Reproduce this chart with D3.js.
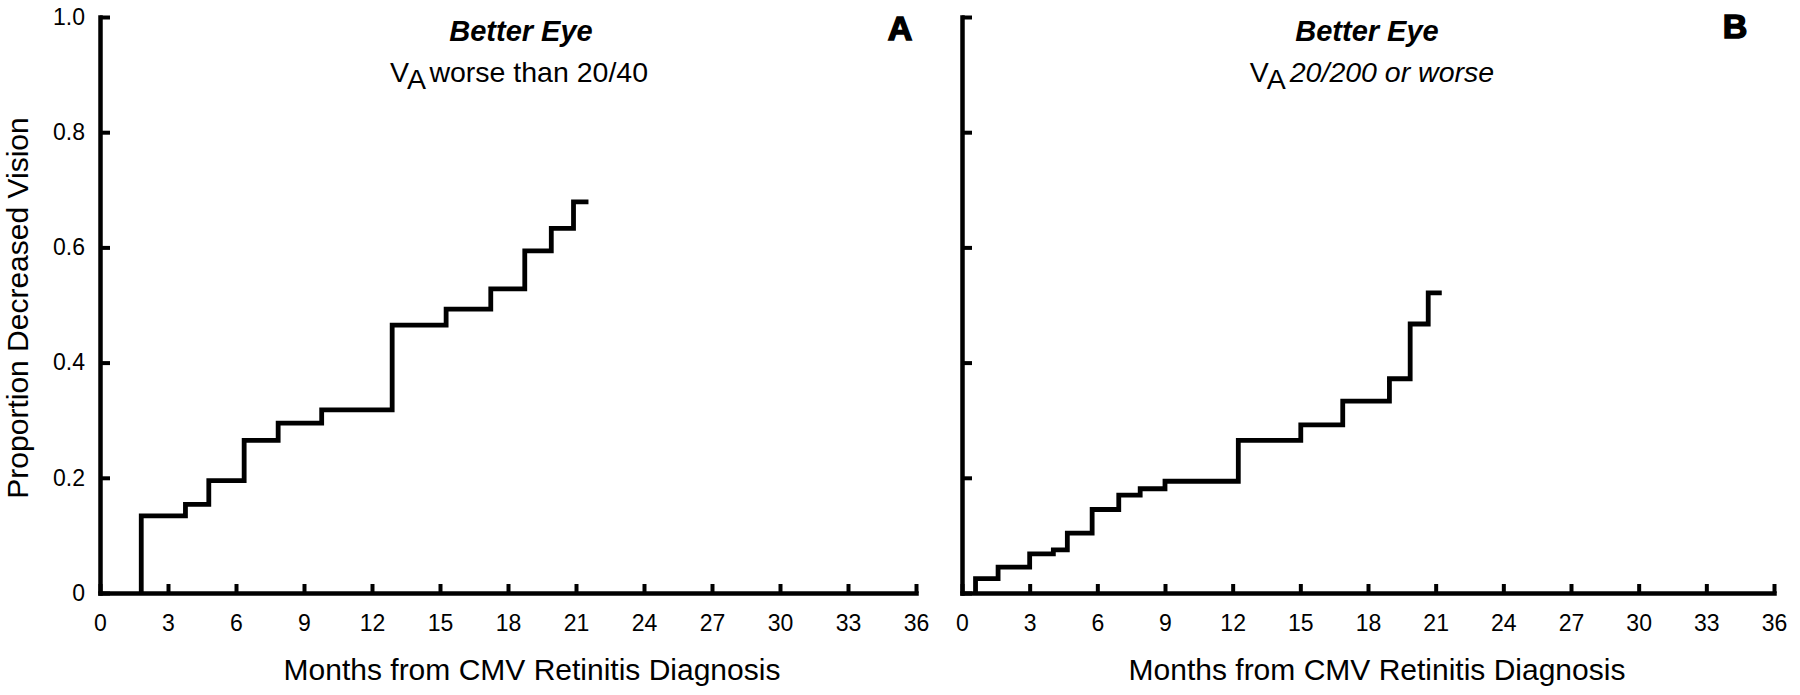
<!DOCTYPE html>
<html>
<head>
<meta charset="utf-8">
<script src="https://cdn.jsdelivr.net/npm/d3@7"></script>
<style>
  html, body { margin: 0; padding: 0; background: #fff; }
  svg { display: block; }
  text { font-family: "Liberation Sans", Arial, Helvetica, sans-serif; fill: #000; }
</style>
</head>
<body>
<svg id="chart" width="1800" height="695"></svg>
<script>
// ---- data ----
const xTicks = [0, 3, 6, 9, 12, 15, 18, 21, 24, 27, 30, 33, 36];
const yTicks = [0, 0.2, 0.4, 0.6, 0.8, 1.0];
const yTickLabels = ["0", "0.2", "0.4", "0.6", "0.8", "1.0"];

// Panel A: better eye, VA worse than 20/40 (event months and cumulative proportions)
const monthsA = [1.82, 3.77, 4.80, 6.36, 7.86, 9.78, 12.89, 15.27, 17.24, 18.74, 19.91, 20.89];
const valuesA = [0.134, 0.154, 0.195, 0.265, 0.295, 0.318, 0.465, 0.493, 0.528, 0.594, 0.633, 0.679];
const endA = 21.55;

// Panel B: better eye, VA 20/200 or worse
const monthsB = [0.60, 1.60, 3.00, 4.05, 4.67, 5.77, 6.95, 7.90, 9.00, 12.25, 15.02, 16.88, 18.95, 19.87, 20.67];
const valuesB = [0.025, 0.045, 0.068, 0.075, 0.104, 0.145, 0.170, 0.181, 0.194, 0.265, 0.292, 0.333, 0.372, 0.467, 0.521];
const endB = 21.27;

const panels = [
  { months: monthsA, values: valuesA, end: endA, x0: 100, x1: 916, letter: "A",
    letterX: 900, letterY: 40, titleX: 521, sub: "worse than 20/40", subItalic: false, subX: 519,
    xTitleX: 532, showYLabels: true },
  { months: monthsB, values: valuesB, end: endB, x0: 962, x1: 1774, letter: "B",
    letterX: 1735, letterY: 38, titleX: 1367, sub: "20/200 or worse", subItalic: true, subX: 1372,
    xTitleX: 1377, showYLabels: false }
];

const svg = d3.select("#chart");
const yTop = 17, yBot = 593;
const y = d3.scaleLinear().domain([0, 1]).range([yBot, yTop]);

panels.forEach(p => {
  const x = d3.scaleLinear().domain([0, 36]).range([p.x0, p.x1]);
  const g = svg.append("g");

  // x axis
  const xa = g.append("g").attr("transform", `translate(0,${yBot})`)
    .call(d3.axisBottom(x).tickValues(xTicks).tickSizeInner(-9).tickSizeOuter(0).tickFormat(d3.format("d")));
  xa.select(".domain").attr("stroke-width", 4.5).attr("stroke-linecap", "square");
  xa.selectAll(".tick line").attr("stroke-width", 4);
  xa.selectAll(".tick text").attr("y", 38).attr("dy", 0).style("font-size", "23px");

  // y axis
  const ya = g.append("g").attr("transform", `translate(${p.x0},0)`)
    .call(d3.axisLeft(y).tickValues(yTicks).tickSizeInner(-10).tickSizeOuter(0).tickPadding(15)
      .tickFormat((d, i) => p.showYLabels ? yTickLabels[i] : ""));
  ya.select(".domain").attr("stroke-width", 4.5).attr("stroke-linecap", "square");
  ya.selectAll(".tick line").attr("stroke-width", 4);
  ya.selectAll(".tick text").style("font-size", "23px");

  // step curve
  const pts = [[p.months[0], 0]];
  p.months.forEach((m, i) => pts.push([m, p.values[i]]));
  pts.push([p.end, p.values[p.values.length - 1]]);
  const line = d3.line().x(d => x(d[0])).y(d => y(d[1])).curve(d3.curveStepAfter);
  g.append("path").attr("d", line(pts)).attr("fill", "none").attr("stroke", "#000")
    .attr("stroke-width", 4.8).attr("stroke-linejoin", "miter");

  // titles
  g.append("text").attr("x", p.titleX).attr("y", 41).attr("text-anchor", "middle")
    .style("font-size", "29px").style("font-weight", "bold").style("font-style", "italic")
    .text("Better Eye");
  const st = g.append("text").attr("x", p.subX).attr("y", 82).attr("text-anchor", "middle")
    .style("font-size", "28.5px");
  st.append("tspan").text("V");
  st.append("tspan").attr("dy", 7).text("A");
  st.append("tspan").attr("dy", -7).attr("dx", 4)
    .style("font-style", p.subItalic ? "italic" : "normal").text(p.sub);

  // panel letter
  g.append("text").attr("x", p.letterX).attr("y", p.letterY).attr("text-anchor", "middle")
    .style("font-size", "34px").style("font-weight", "bold")
    .attr("stroke", "#000").attr("stroke-width", 1.5).text(p.letter);

  // x title
  g.append("text").attr("x", p.xTitleX).attr("y", 680).attr("text-anchor", "middle")
    .style("font-size", "30px").text("Months from CMV Retinitis Diagnosis");
});

// y title
svg.append("text").attr("transform", "translate(28,308) rotate(-90)").attr("text-anchor", "middle")
  .style("font-size", "30px").text("Proportion Decreased Vision");
</script>
</body>
</html>
